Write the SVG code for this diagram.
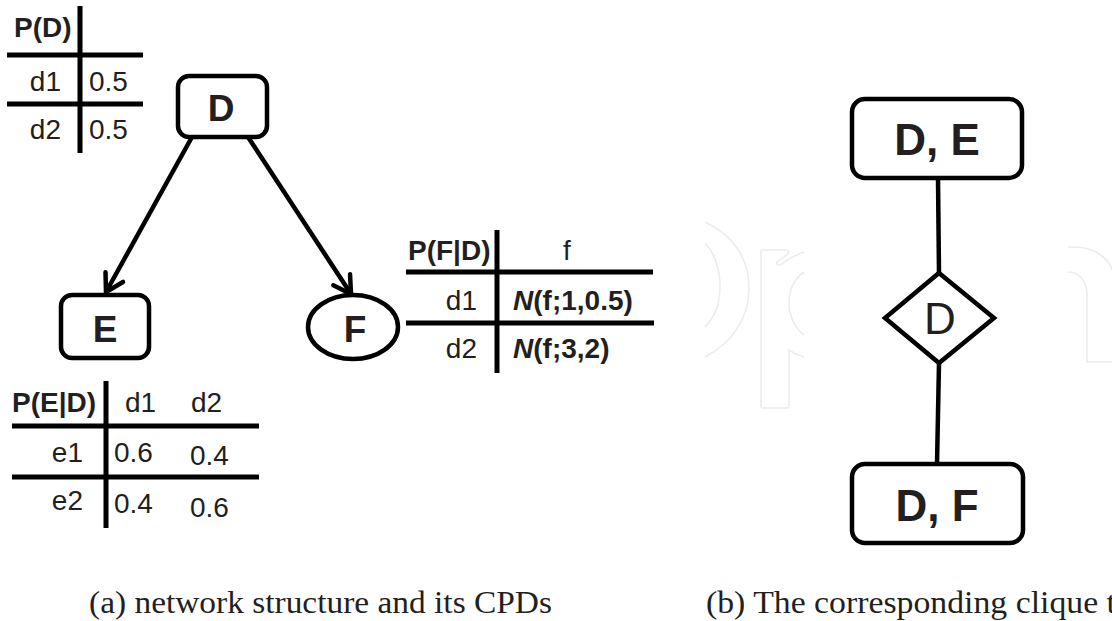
<svg xmlns="http://www.w3.org/2000/svg" width="1112" height="621" viewBox="0 0 1112 621">
<defs>
<style>
.ln{stroke:#000;stroke-width:4.5;fill:none}
.tl{stroke:#000;stroke-width:5;fill:none}
.nd{fill:#fff;stroke:#000;stroke-width:4.5}
.wm{fill:none;stroke:#ececec;stroke-width:1.6}
.t{font-family:"Liberation Sans",Arial,sans-serif;fill:#231f20;font-size:28px}
.b{font-weight:bold}
.n1{font-family:"Liberation Sans",Arial,sans-serif;fill:#231f20;font-weight:bold;font-size:37px}
.n2{font-family:"Liberation Sans",Arial,sans-serif;fill:#231f20;font-weight:bold;font-size:44px}
.n3{font-family:"Liberation Sans",Arial,sans-serif;fill:#231f20;font-size:44px}
.cap{font-family:"Liberation Serif","Times New Roman",serif;fill:#231f20;font-size:31px}
</style>
<marker id="arr" markerUnits="userSpaceOnUse" viewBox="-22 -14 26 28" refX="0" refY="0" markerWidth="26" markerHeight="28" orient="auto">
<path d="M-17,-10 L0,0 L-17,10" fill="none" stroke="#000" stroke-width="4.5" stroke-linecap="round"/>
</marker>
</defs>
<rect width="1112" height="621" fill="#fff"/>
<g id="watermark">
<path class="wm" d="M705,222 C733,235 749,258 749,288 C749,318 733,342 705,357"/>
<path class="wm" d="M705,243 C714,252 720,268 720,287 C720,305 714,318 705,327"/>
<path class="wm" d="M761,406 L761,252 Q761,250 763,250 L787,250 Q790,251 788,254 L777,262 Q776,266 780,265 Q792,256 804,252"/>
<path class="wm" d="M761,406 Q761,408 763,408 L787,408 Q789,408 789,406 L789,350 Q796,355 804,357"/>
<path class="wm" d="M804,272 C793,280 789,292 789,303 C789,316 795,328 804,335"/>
<path class="wm" d="M1068,247 L1075,247 C1095,247 1110,260 1112,270"/>
<path class="wm" d="M1068,272 C1080,272 1087,282 1087,295 L1087,362 L1112,362"/>
</g>
<g id="table-PD">
<path class="tl" d="M80,6 V153 M7,55 H143 M7,104 H143"/>
<text class="t b" x="14" y="37">P(D)</text>
<text class="t" x="61" y="91" text-anchor="end">d1</text>
<text class="t" x="89" y="91">0.5</text>
<text class="t" x="61" y="139" text-anchor="end">d2</text>
<text class="t" x="89" y="139">0.5</text>
</g>
<g id="connectors">
<line class="ln" x1="192" y1="137" x2="106" y2="292" marker-end="url(#arr)"/>
<line class="ln" x1="248" y1="137" x2="351" y2="294" marker-end="url(#arr)"/>
<line class="ln" x1="938" y1="178" x2="939" y2="273"/>
<line class="ln" x1="939" y1="363" x2="937" y2="464"/>
</g>
<g id="node-D">
<rect class="nd" x="178" y="76" width="89" height="61" rx="11"/>
<text class="n1" x="221" y="121" text-anchor="middle">D</text>
</g>
<g id="node-E">
<rect class="nd" x="61" y="295" width="88" height="63" rx="11"/>
<text class="n1" x="105" y="342" text-anchor="middle">E</text>
</g>
<g id="node-F">
<ellipse class="nd" cx="353" cy="327" rx="45" ry="32"/>
<text class="n1" x="355" y="342" text-anchor="middle">F</text>
</g>
<g id="table-PFD">
<path class="tl" d="M497,230 V373 M406,272 H653 M406,323 H654"/>
<text class="t b" x="408" y="260">P(F|D)</text>
<text class="t" x="567" y="260" text-anchor="middle">f</text>
<text class="t" x="477" y="310" text-anchor="end">d1</text>
<text class="t b" x="513" y="310"><tspan font-style="italic">N</tspan>(f;1,0.5)</text>
<text class="t" x="477" y="358" text-anchor="end">d2</text>
<text class="t b" x="513" y="358"><tspan font-style="italic">N</tspan>(f;3,2)</text>
</g>
<g id="table-PED">
<path class="tl" d="M106,381 V528 M12,426 H259 M12,477 H259"/>
<text class="t b" x="12" y="412">P(E|D)</text>
<text class="t" x="125" y="412">d1</text>
<text class="t" x="191" y="412">d2</text>
<text class="t" x="83" y="462" text-anchor="end">e1</text>
<text class="t" x="114" y="462">0.6</text>
<text class="t" x="190" y="465">0.4</text>
<text class="t" x="83" y="510" text-anchor="end">e2</text>
<text class="t" x="114" y="513">0.4</text>
<text class="t" x="190" y="517">0.6</text>
</g>
<g id="node-DE">
<rect class="nd" x="852" y="99" width="170" height="79" rx="13"/>
<text class="n2" x="937" y="155" text-anchor="middle">D, E</text>
</g>
<g id="node-Dsep">
<polygon class="nd" points="939,273 994,318 939,363 885,318"/>
<text class="n3" x="940" y="334" text-anchor="middle">D</text>
</g>
<g id="node-DF">
<rect class="nd" x="852" y="464" width="171" height="79" rx="13"/>
<text class="n2" x="937" y="521" text-anchor="middle">D, F</text>
</g>
<g id="captions">
<text class="cap" x="89" y="613" textLength="463" lengthAdjust="spacingAndGlyphs">(a) network structure and its CPDs</text>
<text class="cap" x="706" y="613" textLength="410" lengthAdjust="spacingAndGlyphs">(b) The corresponding clique t</text>
</g>
</svg>
